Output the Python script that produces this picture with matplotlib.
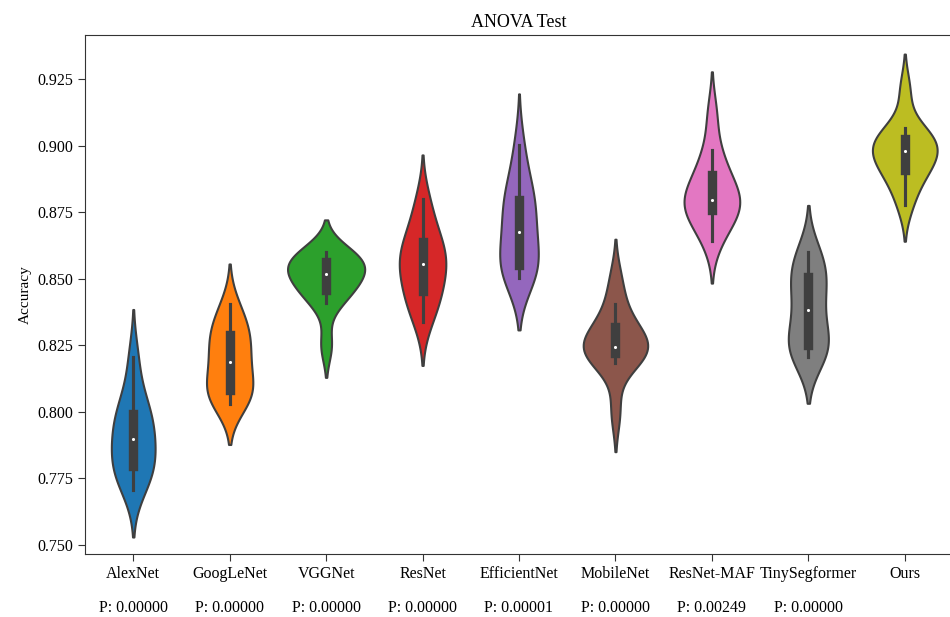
import matplotlib
matplotlib.use("Agg")
import matplotlib.pyplot as plt
import matplotlib.transforms as mtransforms
import numpy as np
import pandas as pd
import seaborn as sns

# accuracy samples
models = ["AlexNet", "GoogLeNet", "VGGNet", "ResNet", "EfficientNet",
          "MobileNet", "ResNet-MAF", "TinySegformer", "Ours"]
alexnet = [0.7707, 0.7760, 0.7780, 0.7800, 0.7840, 0.7880, 0.7915, 0.7950, 0.7990, 0.8005, 0.8080, 0.8208]
googlenet = [0.8029, 0.8050, 0.8070, 0.8085, 0.8120, 0.8170, 0.8205, 0.8240, 0.8280, 0.8310, 0.8340, 0.8405]
vggnet = [0.8250, 0.8408, 0.8440, 0.8465, 0.8490, 0.8510, 0.8530, 0.8550, 0.8560, 0.8575, 0.8590, 0.8602]
resnet = [0.8339, 0.8400, 0.8440, 0.8460, 0.8520, 0.8550, 0.8565, 0.8590, 0.8630, 0.8660, 0.8720, 0.8802]
efficientnet = [0.8502, 0.8520, 0.8540, 0.8555, 0.8600, 0.8650, 0.8705, 0.8750, 0.8790, 0.8820, 0.8880, 0.9002]
mobilenet = [0.8000, 0.8183, 0.8210, 0.8225, 0.8235, 0.8240, 0.8250, 0.8270, 0.8310, 0.8340, 0.8405, 0.8500]
resnet_maf = [0.8643, 0.8700, 0.8740, 0.8765, 0.8780, 0.8790, 0.8805, 0.8840, 0.8880, 0.8920, 0.8983, 0.9120]
tinysegformer = [0.8207, 0.8225, 0.8240, 0.8255, 0.8290, 0.8350, 0.8415, 0.8450, 0.8500, 0.8530, 0.8570, 0.8602]
ours = [0.8777, 0.8850, 0.8900, 0.8915, 0.8950, 0.8970, 0.8990, 0.9010, 0.9020, 0.9040, 0.9067, 0.9210]
p_values = ["0.00000", "0.00000", "0.00000", "0.00000", "0.00001",
            "0.00000", "0.00249", "0.00000"]

samples = [alexnet, googlenet, vggnet, resnet, efficientnet,
           mobilenet, resnet_maf, tinysegformer, ours]
rows = []
for name, vals in zip(models, samples):
    for v in vals:
        rows.append({"Model": name, "Accuracy": v})
df = pd.DataFrame(rows)

plt.rcParams["font.family"] = ["Liberation Serif", "DejaVu Serif"]

fig = plt.figure(figsize=(9.5, 6.17), dpi=100)
ax = fig.add_axes([85 / 950, 1 - 554 / 617, 868 / 950, 519 / 617])

sns.violinplot(data=df, x="Model", y="Accuracy", hue="Model", order=models,
               palette="tab10", saturation=1, linewidth=1.5,
               linecolor="#3f3f3f", inner="box", density_norm="area",
               common_norm=True, inner_kws=dict(marker="None"),
               legend=False, ax=ax)

# small white median dots
medians = [np.median(v) for v in samples]
ax.scatter(range(len(models)), medians, s=5, color="white", zorder=5, linewidths=0)

ax.set_ylim(0.7466, 0.9417)
ax.set_xlim(-0.5, 8.5)
ax.set_yticks([0.750, 0.775, 0.800, 0.825, 0.850, 0.875, 0.900, 0.925])
ax.set_yticklabels(["0.750", "0.775", "0.800", "0.825", "0.850", "0.875", "0.900", "0.925"])
ax.tick_params(axis="both", labelsize=11.5, length=5, color="#333333")
ax.set_xlabel("")
ax.set_ylabel("Accuracy", fontsize=11)
ax.set_title("ANOVA Test", fontsize=13, pad=6)
for s in ax.spines.values():
    s.set_color("#333333")

trans = mtransforms.blended_transform_factory(ax.transData, ax.transAxes)
for i, p in enumerate(p_values):
    ax.text(i, -0.105, "P: " + p, transform=trans, ha="center", va="center",
            fontsize=11.5)

fig.savefig("out.png", dpi=100)
